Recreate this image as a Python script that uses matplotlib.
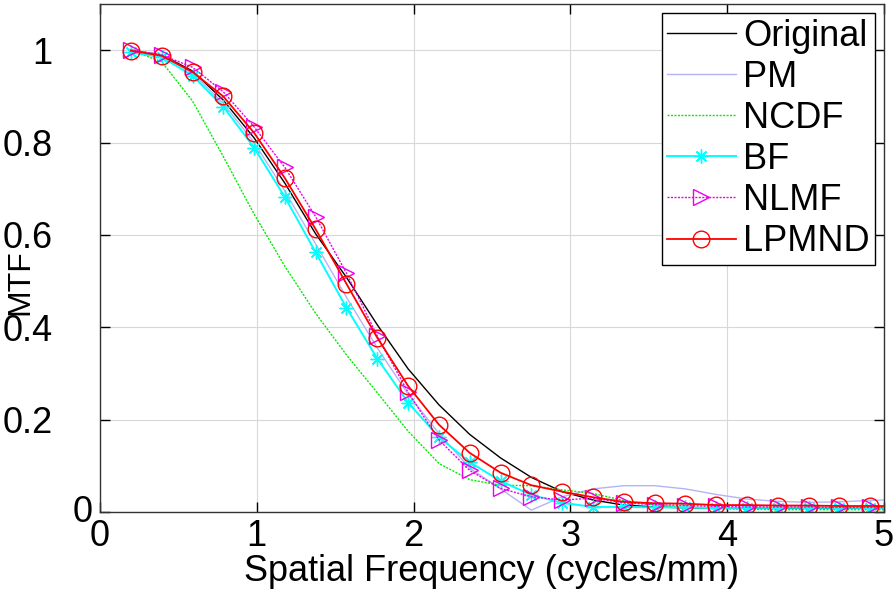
import numpy as np
import matplotlib
matplotlib.use('Agg')
import matplotlib.pyplot as plt

plt.rcParams['font.family'] = ['Liberation Sans', 'DejaVu Sans']

# spatial frequency samples (cycles/mm)
freq = [0.196, 0.393, 0.590, 0.786, 0.983, 1.179, 1.376, 1.572, 1.769, 1.965,
        2.162, 2.358, 2.555, 2.751, 2.948, 3.144, 3.341, 3.537, 3.734, 3.930,
        4.127, 4.323, 4.520, 4.716, 4.913, 5.110]

mtf_original = [1.000, 0.990, 0.955, 0.892, 0.810, 0.712, 0.602, 0.508, 0.405, 0.310,
                0.232, 0.168, 0.117, 0.075, 0.044, 0.026, 0.015, 0.011, 0.009, 0.009,
                0.009, 0.008, 0.008, 0.008, 0.009, 0.009]
mtf_pm = [1.000, 0.990, 0.950, 0.885, 0.800, 0.695, 0.580, 0.465, 0.355, 0.255,
          0.170, 0.095, 0.050, 0.004, 0.033, 0.050, 0.057, 0.057, 0.050, 0.038,
          0.028, 0.023, 0.021, 0.022, 0.025, 0.027]
mtf_ncdf = [1.000, 0.975, 0.890, 0.770, 0.645, 0.532, 0.430, 0.340, 0.258, 0.175,
            0.105, 0.070, 0.058, 0.057, 0.048, 0.040, 0.025, 0.015, 0.010, 0.007,
            0.006, 0.005, 0.005, 0.005, 0.005, 0.005]
mtf_bf = [0.995, 0.985, 0.945, 0.878, 0.789, 0.682, 0.562, 0.442, 0.332, 0.237,
          0.162, 0.108, 0.067, 0.037, 0.020, 0.011, 0.011, 0.010, 0.010, 0.009,
          0.009, 0.009, 0.009, 0.009, 0.009, 0.009]
mtf_nlmf = [1.000, 0.990, 0.963, 0.910, 0.834, 0.746, 0.639, 0.517, 0.381, 0.259,
            0.156, 0.090, 0.051, 0.033, 0.026, 0.030, 0.020, 0.016, 0.014, 0.012,
            0.011, 0.011, 0.011, 0.010, 0.010, 0.010]
mtf_lpmnd = [0.999, 0.988, 0.953, 0.900, 0.821, 0.723, 0.612, 0.494, 0.377, 0.273,
             0.189, 0.128, 0.085, 0.058, 0.044, 0.032, 0.022, 0.019, 0.018, 0.015,
             0.015, 0.014, 0.014, 0.013, 0.013, 0.013]

yticks = [0, 0.2, 0.4, 0.6, 0.8, 1.0]
ytick_labels = ['', '0.2', '0.4', '0.6', '0.8', '1']
xticks = [0, 1, 2, 3, 4, 5]

fig = plt.figure(figsize=(8.96, 5.98), dpi=100)
ax = fig.add_axes([0.1116, 0.1438, 0.8750, 0.8495])

ax.plot(freq, mtf_original, color='k', lw=1.0, label='Original')
ax.plot(freq, mtf_pm, color='#b4b4f4', lw=1.0, label='PM')
ax.plot(freq, mtf_ncdf, color='#00ee00', lw=1.0, ls=(0, (1.5, 1.0)), label='NCDF')
ax.plot(freq, mtf_bf, color='#00ffff', lw=1.4, marker=(8, 2, 0), ms=10, mew=1.0,
        label='BF')
ax.plot(freq, mtf_nlmf, color='#ee00ee', lw=1.0, ls=(0, (1.5, 1.0)), marker='>',
        ms=11, mfc='none', mew=1.0, label='NLMF')
ax.plot(freq, mtf_lpmnd, color='#ff0000', lw=1.3, marker='o', ms=12, mfc='none',
        mew=1.0, label='LPMND')

ax.set_xlim(0, 5)
ax.set_ylim(0, 1.1)
ax.set_xticks(xticks)
ax.set_yticks(yticks)
ax.set_yticklabels(ytick_labels)
ax.grid(True, color='#d8d8d8', lw=0.8)
ax.tick_params(direction='in', length=7, width=1, labelsize=26, top=True, right=True)
ax.tick_params(axis='y', pad=34)
ax.tick_params(axis='x', pad=5)
# the zero label on y sits right next to the axis in the original
ax.text(-0.009, 0, '0', transform=ax.get_yaxis_transform(), ha='right', va='center',
        fontsize=26)
for sp in ax.spines.values():
    sp.set_linewidth(1.0)
    sp.set_color('#333333')

ax.set_xlabel('Spatial Frequency (cycles/mm)', fontsize=26, labelpad=0)
ax.set_ylabel('MTF', fontsize=23)
ax.yaxis.set_label_coords(-0.082, 0.452)

leg = ax.legend(loc='upper right', bbox_to_anchor=(0.9885, 0.982), fontsize=26,
                handlelength=1.9, handletextpad=0.2, labelspacing=0.17,
                borderpad=0.15, borderaxespad=0.0, fancybox=False, framealpha=1.0)
leg.get_frame().set_edgecolor('k')
leg.get_frame().set_linewidth(1.0)

fig.savefig('out.png', dpi=100)
